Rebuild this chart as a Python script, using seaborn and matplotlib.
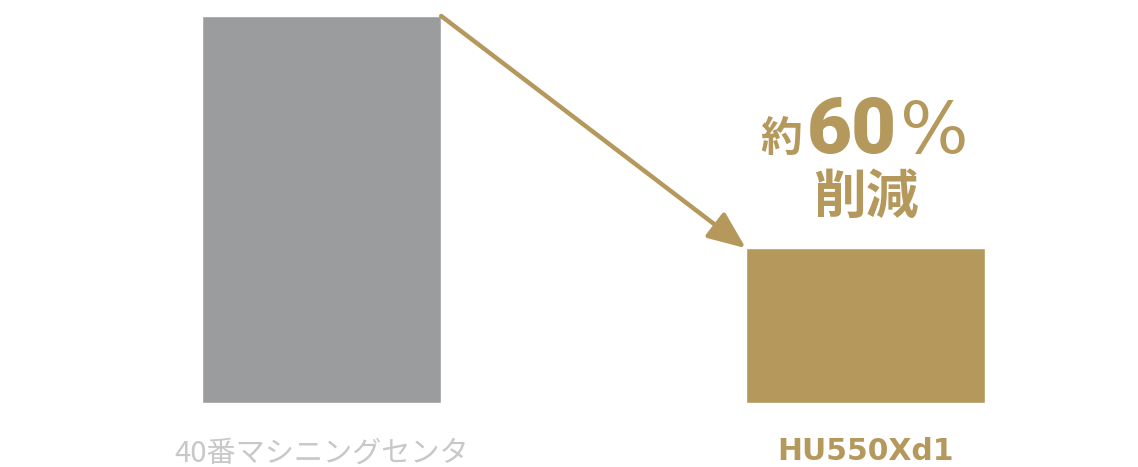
import matplotlib
matplotlib.use("Agg")
import matplotlib.pyplot as plt
import seaborn as sns

# values
categories = ["40番マシニングセンタ", "HU550Xd1"]
values = [100, 40]
bar_colors = ["#9b9c9e", "#b5985b"]
label_colors = ["#c8c8c8", "#b5985b"]
note_prefix = "約"
note_number = "60"
note_suffix = "%"
note_line2 = "削減"

gold = "#b5985b"
bar_width = 0.44

sns.set_theme(style="white")
plt.rcParams["font.family"] = ["Noto Sans CJK JP", "DejaVu Sans"]

fig = plt.figure(figsize=(11.38, 4.67), dpi=100)
ax = fig.add_axes([0, 0, 1, 1])

sns.barplot(x=categories, y=values, hue=categories, palette=bar_colors,
            width=bar_width, legend=False, ax=ax, saturation=1)

ax.set_xlim(-0.591, 1.501)
ax.set_ylim(-16.54, 104.13)
ax.set_axis_off()

# arrow from top of the first bar to top of the second
ax.annotate("", xy=(1 - bar_width / 2, values[1]),
            xytext=(bar_width / 2, values[0]),
            arrowprops=dict(arrowstyle="-|>,head_length=1.15,head_width=0.48",
                            mutation_scale=20, lw=3.2, color=gold,
                            shrinkA=0, shrinkB=0))

# category labels under the bars
ax.text(0, -13.2, categories[0], ha="center", va="center",
        fontsize=21, color=label_colors[0])
ax.text(1, -12.6, categories[1], ha="center", va="center",
        fontsize=21.5, fontweight="bold", color=label_colors[1],
        family=["DejaVu Sans"])

# reduction note
ax.text(0.883, 65.1, note_prefix, ha="right", va="baseline",
        fontsize=30, fontweight="bold", color=gold)
ax.text(0.892, 64.6, note_number, ha="left", va="baseline",
        fontsize=56, fontweight="black", color=gold,
        family=["Roboto", "Liberation Sans"])
ax.text(1.064, 64.6, note_suffix, ha="left", va="baseline",
        fontsize=52, color=gold, family=["DejaVu Sans"])
ax.text(1.0, 53.0, note_line2, ha="center", va="center",
        fontsize=38, fontweight="bold", color=gold)

fig.savefig("out.png", dpi=100)
